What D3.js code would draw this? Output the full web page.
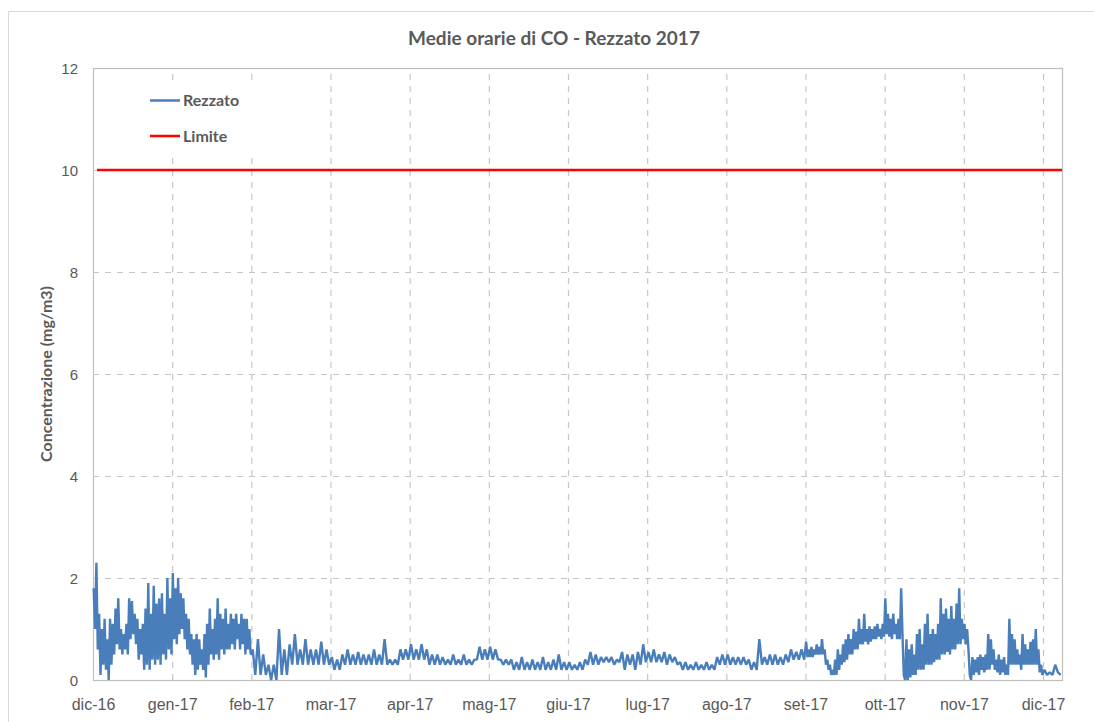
<!DOCTYPE html>
<html>
<head>
<meta charset="utf-8">
<script src="https://cdn.jsdelivr.net/npm/d3@7"></script>
<style>
    body { margin: 0; background: #fff; }
    svg { display: block; font-family: Lato, "Open Sans", sans-serif; }
</style>
</head>
<body>
<svg class="line-chart"></svg>
<script>
'use strict';

// month labels on the x axis (one tick per month, equal spacing)
var monthLabels = ['dic-16', 'gen-17', 'feb-17', 'mar-17', 'apr-17', 'mag-17', 'giu-17',
    'lug-17', 'ago-17', 'set-17', 'ott-17', 'nov-17', 'dic-17'];
var yTicks = [0, 2, 4, 6, 8, 10, 12];
var limitValue = 10;

var m00 = [1.8, 1.0, 2.3, 0.6, 1.3, 0.1, 1.0, 0.3, 1.2, 0.2, 0.8, 0.0, 1.2, 0.3, 1.1,
    0.5, 1.4, 0.7, 1.6, 0.6, 1.0, 0.5, 0.9, 0.6, 1.1, 0.5, 1.6, 0.8, 1.55, 0.9,
    1.3, 0.7, 1.2, 0.4, 1.0, 0.5, 1.1, 0.2, 1.4, 0.3, 1.9, 0.2, 1.3, 0.4, 1.85,
    0.3, 1.5, 0.4, 1.6, 0.3, 1.7, 0.5, 1.3, 0.4, 2.0, 0.6, 1.6, 0.5];
var m01 = [2.1, 0.8, 1.8, 0.7, 2.0, 0.9, 1.7, 1.0, 1.6, 0.8, 1.3, 0.6, 1.2, 0.5, 0.9,
    0.3, 0.8, 0.1, 0.9, 0.2, 0.8, 0.3, 0.6, 0.2, 0.9, 0.05, 1.1, 0.3, 1.4, 0.5,
    1.0, 0.4, 1.2, 0.5, 1.6, 0.4, 1.3, 0.6, 1.2, 0.5, 1.4, 0.6, 1.1, 0.6, 1.3,
    0.7, 1.2, 0.6, 1.3, 0.8, 1.1, 0.6, 1.3, 0.7, 1.2, 0.5, 1.2, 0.6, 1.0, 0.5];
var m02 = [0.6, 0.1, 0.8, 0.1, 0.5, 0.1, 0.3, 0.0, 0.3, 0.0, 1.0, 0.1, 0.6, 0.1, 0.7,
    0.3, 0.9, 0.3, 0.6, 0.3, 0.8, 0.3, 0.6, 0.3, 0.6, 0.3, 0.75, 0.3, 0.6, 0.3];
var m03 = [0.45, 0.2, 0.4, 0.2, 0.5, 0.3, 0.6, 0.3, 0.5, 0.3, 0.55, 0.3, 0.5, 0.3, 0.5,
    0.3, 0.6, 0.3, 0.5, 0.3, 0.8, 0.3, 0.4, 0.3, 0.4, 0.3, 0.6, 0.4, 0.6, 0.4];
var m04 = [0.7, 0.4, 0.6, 0.4, 0.7, 0.4, 0.6, 0.3, 0.5, 0.3, 0.5, 0.3, 0.45, 0.3, 0.4,
    0.3, 0.5, 0.3, 0.4, 0.3, 0.5, 0.3, 0.4, 0.3, 0.4, 0.4, 0.65, 0.4, 0.6, 0.4];
var m05 = [0.65, 0.4, 0.6, 0.4, 0.4, 0.3, 0.4, 0.3, 0.4, 0.2, 0.35, 0.2, 0.45, 0.2, 0.35,
    0.2, 0.4, 0.2, 0.35, 0.2, 0.45, 0.2, 0.35, 0.2, 0.4, 0.2, 0.5, 0.2, 0.35, 0.2];
var m06 = [0.35, 0.2, 0.3, 0.2, 0.35, 0.2, 0.4, 0.3, 0.55, 0.3, 0.5, 0.3, 0.45, 0.35, 0.45,
    0.35, 0.45, 0.3, 0.4, 0.35, 0.55, 0.2, 0.5, 0.3, 0.5, 0.2, 0.55, 0.3, 0.7, 0.35];
var m07 = [0.55, 0.35, 0.6, 0.35, 0.5, 0.35, 0.55, 0.3, 0.5, 0.35, 0.45, 0.3, 0.35, 0.2, 0.35,
    0.2, 0.3, 0.2, 0.35, 0.2, 0.3, 0.2, 0.35, 0.2, 0.3, 0.2, 0.45, 0.3, 0.5, 0.3];
var m08 = [0.5, 0.3, 0.45, 0.3, 0.45, 0.3, 0.45, 0.3, 0.4, 0.2, 0.35, 0.2, 0.8, 0.3, 0.45,
    0.3, 0.5, 0.3, 0.5, 0.3, 0.45, 0.3, 0.5, 0.35, 0.6, 0.4, 0.55, 0.4, 0.6, 0.4];
var m09 = [0.75, 0.45, 0.6, 0.45, 0.65, 0.45, 0.6, 0.5, 0.7, 0.5, 0.65, 0.5, 0.8, 0.5, 0.6,
    0.3, 0.4, 0.2, 0.3, 0.1, 0.2, 0.1, 0.4, 0.1, 0.6, 0.2, 0.5, 0.3, 0.7, 0.35,
    0.8, 0.4, 0.9, 0.5, 0.8, 0.5, 1.0, 0.6, 0.95, 0.6, 1.2, 0.7, 1.0, 0.7, 1.3,
    0.75, 1.0, 0.7, 1.05, 0.75, 1.0, 0.8, 1.05, 0.8, 1.1, 0.85, 1.0, 0.8, 1.1, 0.85];
var m10 = [1.6, 0.9, 1.3, 0.85, 1.2, 0.8, 1.3, 0.9, 1.1, 0.8, 1.2, 0.8, 1.8, 0.9, 0.1,
    0.0, 0.8, 0.0, 0.6, 0.05, 0.7, 0.1, 0.5, 0.1, 0.9, 0.2, 1.0, 0.2, 0.7, 0.2,
    1.1, 0.3, 1.3, 0.3, 0.9, 0.3, 1.0, 0.35, 0.9, 0.4, 1.1, 0.4, 1.6, 0.5, 1.3,
    0.5, 1.4, 0.55, 1.2, 0.5, 1.45, 0.6, 1.2, 0.6, 1.5, 0.7, 1.8, 0.7, 1.2, 0.8];
var m11 = [1.1, 0.7, 1.0, 0.6, 0.1, 0.0, 0.45, 0.1, 0.4, 0.15, 0.45, 0.1, 0.5, 0.2, 0.45,
    0.15, 0.5, 0.2, 0.9, 0.2, 0.8, 0.3, 0.6, 0.2, 0.4, 0.15, 0.5, 0.1, 0.4, 0.15,
    0.45, 0.1, 0.3, 0.1, 1.2, 0.3, 0.9, 0.3, 0.8, 0.3, 0.6, 0.3, 0.5, 0.2, 0.9,
    0.3, 0.7, 0.3, 0.6, 0.3, 0.75, 0.3, 0.8, 0.3, 1.0, 0.3, 0.6, 0.15, 0.3, 0.1];
var m12 = [0.2, 0.1, 0.15, 0.1, 0.3, 0.15, 0.1];

var months = [m00, m01, m02, m03, m04, m05, m06, m07, m08, m09, m10, m11, m12];

var buildSeries = function(months, lastSpan) {
    var arr = [];
    for (var m = 0; m < months.length; m++) {
        var n = months[m].length,
            span = (m === months.length - 1) ? lastSpan : 1;
        for (var i = 0; i < n; i++) {
            arr.push({ t: m + span * (i + 0.5) / n, v: months[m][i] });
        }
    }
    return arr;
};

var drawChart = function() {
    var svgWidth = 1094,
        svgHeight = 722,
        margin = { top: 68, right: 32, bottom: 42, left: 93 },
        width = svgWidth - margin.left - margin.right,
        height = svgHeight - margin.top - margin.bottom,
        xMax = 12.24,
        textColor = '#595959',
        gridColor = '#c6c6c6';

    var data = buildSeries(months, xMax - 12);

    var svg = d3.select('svg.line-chart')
        .attr('width', svgWidth)
        .attr('height', svgHeight);

    // outer chart frame
    svg.append('rect')
        .attr('x', 8.5).attr('y', 11.5)
        .attr('width', svgWidth).attr('height', svgHeight)
        .attr('fill', '#fff').attr('stroke', '#d9d9d9');

    var xScale = d3.scaleLinear().domain([0, xMax]).range([0, width]);
    var yScale = d3.scaleLinear().domain([0, 12]).range([height, 0]);

    var g = svg.append('g')
        .attr('transform', 'translate(' + margin.left + ',' + margin.top + ')');

    // grid
    var xGrid = d3.axisBottom(xScale)
        .tickValues(d3.range(1, monthLabels.length))
        .tickSize(-height).tickFormat('');
    g.append('g').attr('class', 'grid')
        .attr('transform', 'translate(0,' + height + ')')
        .call(xGrid);
    var yGrid = d3.axisLeft(yScale)
        .tickValues(yTicks.slice(1))
        .tickSize(-width).tickFormat('');
    g.append('g').attr('class', 'grid').call(yGrid);
    g.selectAll('.grid .domain').remove();
    g.selectAll('.grid line')
        .attr('stroke', gridColor)
        .attr('stroke-width', 1.2)
        .attr('stroke-dasharray', '6,6');

    // plot border
    g.append('rect')
        .attr('x', 0.5).attr('y', 0.5)
        .attr('width', width).attr('height', height)
        .attr('fill', 'none').attr('stroke', '#bfbfbf').attr('stroke-width', 1.2);

    // axes
    var xAxis = d3.axisBottom(xScale)
        .tickValues(d3.range(0, monthLabels.length))
        .tickSize(0).tickPadding(19)
        .tickFormat(function(d) { return monthLabels[d]; });
    var yAxis = d3.axisLeft(yScale)
        .tickValues(yTicks).tickSize(0).tickPadding(15);

    g.append('g').attr('transform', 'translate(0,' + height + ')').call(xAxis)
        .call(function(a) { a.select('.domain').remove(); })
        .selectAll('text')
        .style('font-size', '16px').attr('fill', textColor);
    g.append('g').call(yAxis)
        .call(function(a) { a.select('.domain').remove(); })
        .selectAll('text')
        .attr('dy', '0.36em')
        .style('font-size', '15px').attr('fill', textColor);

    // limit line
    g.append('line')
        .attr('x1', xScale(0.05)).attr('x2', xScale(xMax))
        .attr('y1', yScale(limitValue)).attr('y2', yScale(limitValue))
        .attr('stroke', '#ff0000').attr('stroke-width', 2.5);

    // legend (white box hides the grid behind it)
    var legend = svg.append('g');
    legend.append('rect')
        .attr('x', 140).attr('y', 80).attr('width', 120).attr('height', 72)
        .attr('fill', '#fff');
    var legendItems = [
        { name: 'Rezzato', color: '#4a7ebb', y: 100.5 },
        { name: 'Limite', color: '#ff0000', y: 136 }
    ];
    legendItems.forEach(function(d) {
        legend.append('line')
            .attr('x1', 150).attr('x2', 180).attr('y1', d.y).attr('y2', d.y)
            .attr('stroke', d.color).attr('stroke-width', 2.5);
        legend.append('text')
            .attr('x', 183).attr('y', d.y).attr('dy', '0.36em')
            .style('font-size', '16px').style('font-weight', 'bold')
            .attr('fill', textColor).text(d.name);
    });

    // data line
    var line = d3.line()
        .x(function(d) { return xScale(d.t); })
        .y(function(d) { return yScale(d.v); });
    g.append('path').attr('d', line(data))
        .attr('stroke', '#4a7ebb')
        .attr('stroke-width', 2.4)
        .attr('stroke-linejoin', 'bevel')
        .attr('fill', 'none');

    // titles
    svg.append('text')
        .attr('x', 554).attr('y', 45)
        .attr('text-anchor', 'middle')
        .style('font-size', '19px').style('font-weight', 'bold')
        .attr('fill', textColor)
        .text('Medie orarie di CO - Rezzato 2017');
    svg.append('text')
        .attr('transform', 'translate(52,' + (margin.top + height / 2) + ') rotate(-90)')
        .attr('text-anchor', 'middle')
        .style('font-size', '16px').style('font-weight', 'bold')
        .attr('fill', textColor)
        .text('Concentrazione (mg/m3)');
};

drawChart();
</script>
</body>
</html>
